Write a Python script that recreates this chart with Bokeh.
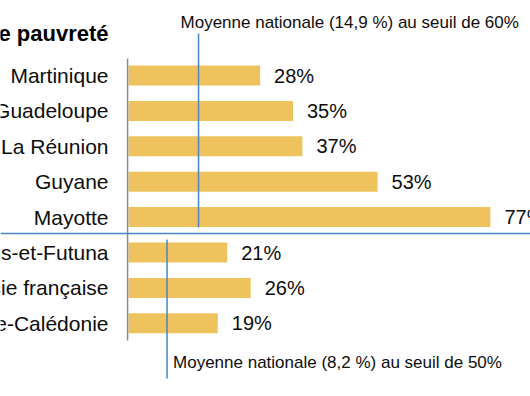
from bokeh.plotting import figure
from bokeh.models import Range1d, Span, ColumnDataSource
from bokeh.core.properties import value
from bokeh.embed import file_html
from bokeh.resources import INLINE

# ---- data ----
categories = ["Martinique", "Guadeloupe", "La Réunion", "Guyane", "Mayotte",
              "Wallis-et-Futuna", "Polynésie française", "Nouvelle-Calédonie"]
rates = [28, 35, 37, 53, 77, 21, 26, 19]
rate_labels = ["28%", "35%", "37%", "53%", "77%", "21%", "26%", "19%"]
title_text = "Taux de pauvreté"
avg60 = 14.9
avg50 = 8.2
avg60_label = "Moyenne nationale (14,9 %) au seuil de 60%"
avg50_label = "Moyenne nationale (8,2 %) au seuil de 50%"

# ---- geometry (picture pixels -> data) ----
W, H = 530, 396
px_per_unit = 4.7
x0_page = 128
row0_page = 75
row_step = 35.4


def ypix(py):
    return (py - row0_page) / row_step


x_start = (0 - x0_page) / px_per_unit
x_end = (W - x0_page) / px_per_unit

p = figure(width=W, height=H, output_backend="svg", toolbar_location=None,
           x_range=Range1d(x_start, x_end), y_range=Range1d(ypix(H), ypix(0)),
           min_border=0)
p.axis.visible = False
p.grid.visible = False
p.outline_line_color = None
p.background_fill_color = "white"
p.border_fill_color = "white"

rows = list(range(len(categories)))
src = ColumnDataSource(dict(y=rows, v=rates, lab=rate_labels, cat=categories,
                            zero=[0] * len(rows)))

p.hbar(y="y", left="zero", right="v", height=20 / row_step, source=src,
       fill_color="#EEC35E", line_color=None)

FONT = value("Liberation Sans")

# category labels
p.text(x="zero", y="y", text="cat", source=src, text_align="right",
       text_baseline="middle", x_offset=-20, text_font=FONT,
       text_font_size="21px", text_color="#0d0d0d")
# value labels
p.text(x="v", y="y", text="lab", source=src, text_align="left",
       text_baseline="middle", x_offset=14, text_font=FONT,
       text_font_size="20px", text_color="#0d0d0d")

# title
p.text(x=[0], y=[ypix(33)], text=[title_text],
       text_align="right", text_baseline="middle", x_offset=-20,
       text_font=FONT, text_font_size="22px", text_font_style="bold",
       text_color="#000000")

# category axis line
p.segment(x0=[-0.2], y0=[ypix(58)], x1=[-0.2], y1=[ypix(340)],
          line_color="#8c8c8c", line_width=1.5)

# separator between groups
p.add_layout(Span(location=ypix(233), dimension="width",
                  line_color="#4a85c6", line_width=1.5))

# national averages
p.segment(x0=[avg60], y0=[ypix(33)], x1=[avg60], y1=[ypix(227)],
          line_color="#4a85c6", line_width=1.5)
p.segment(x0=[avg50], y0=[ypix(239)], x1=[avg50], y1=[ypix(378)],
          line_color="#4a85c6", line_width=1.5)

p.text(x=[avg60], y=[ypix(22)], text=[avg60_label],
       text_align="left", text_baseline="middle", x_offset=-18,
       text_font=FONT, text_font_size="17px", text_color="#0d0d0d")
p.text(x=[avg50], y=[ypix(362)], text=[avg50_label],
       text_align="left", text_baseline="middle", x_offset=6,
       text_font=FONT, text_font_size="17px", text_color="#0d0d0d")

open("out.html", "w").write(file_html(p, INLINE))
